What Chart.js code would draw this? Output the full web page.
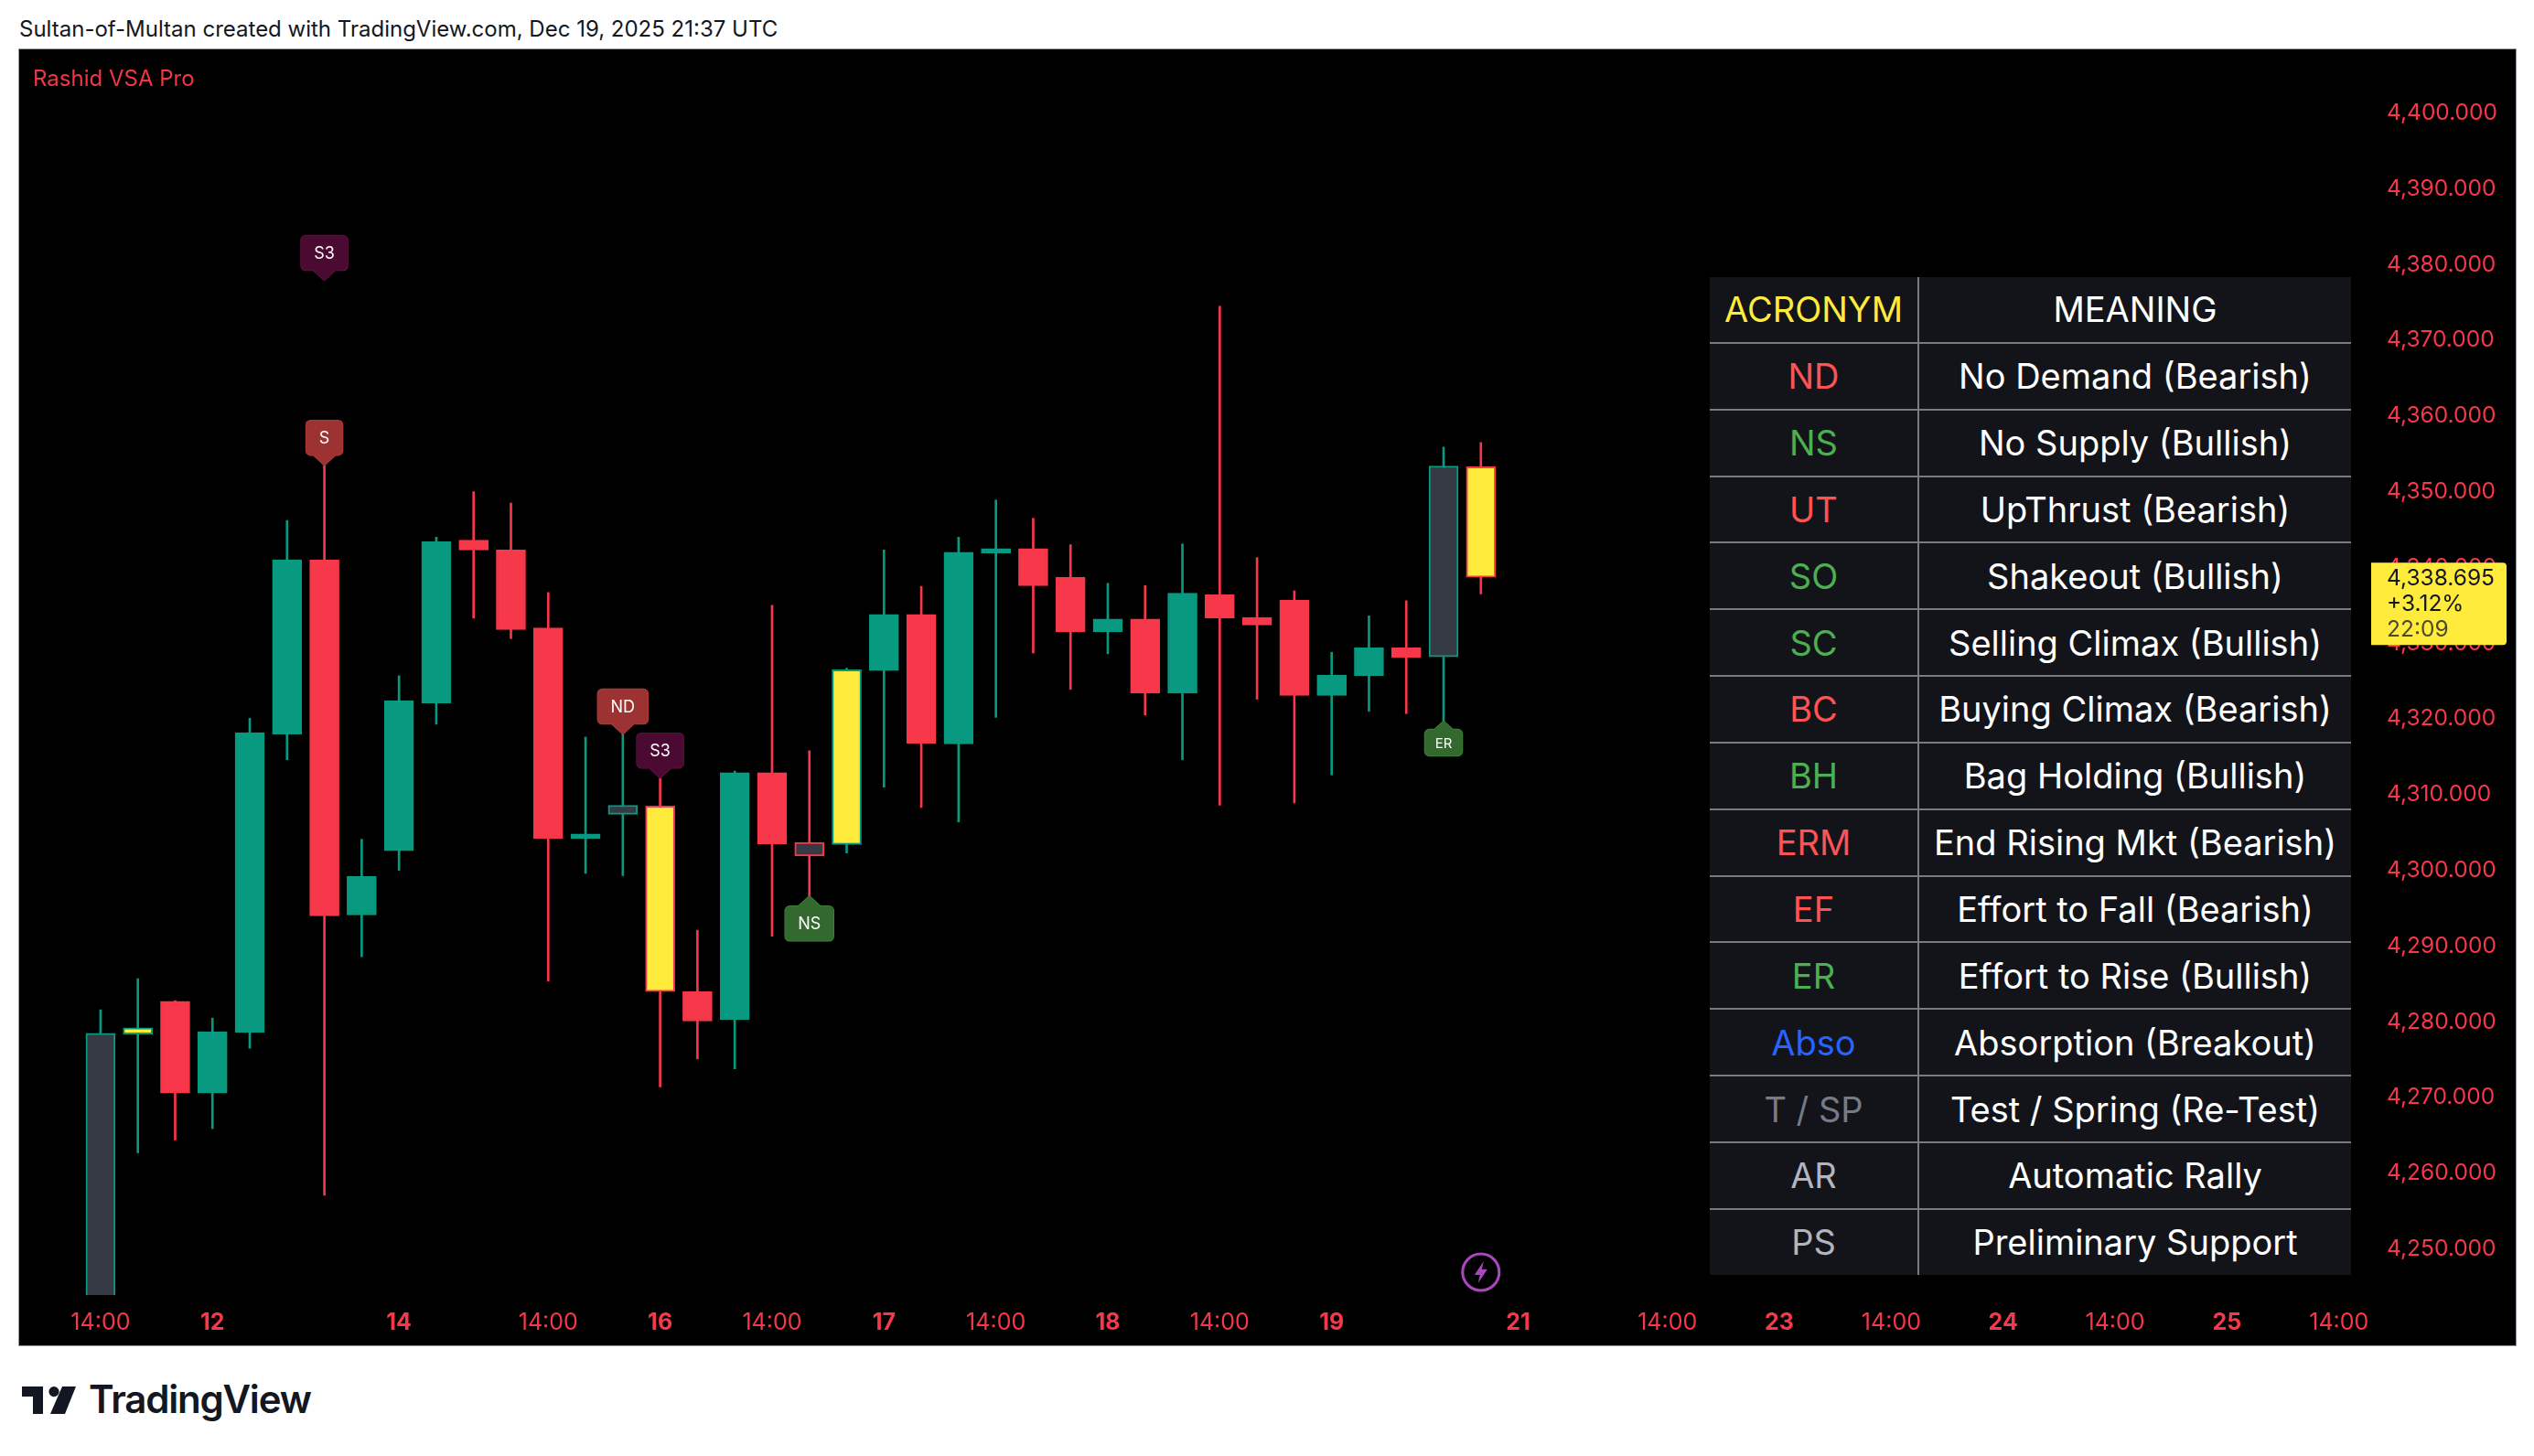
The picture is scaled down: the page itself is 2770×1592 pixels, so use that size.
<!DOCTYPE html>
<html>
<head>
<meta charset="utf-8">
<title>Rashid VSA Pro</title>
<script src="https://cdn.jsdelivr.net/npm/chart.js@4/dist/chart.umd.min.js"></script>
<style>
    html, body { margin: 0; padding: 0; background: #fff; width: 2770px; height: 1592px; overflow: hidden; font-family: Inter, sans-serif; }
    #cabecera { position: absolute; left: 21px; top: 17px; font-size: 24px; line-height: 30px; color: #131722; white-space: nowrap; }
    #panel { position: absolute; left: 20px; top: 53px; width: 2729px; height: 1417px; background: #000; border: 1px solid #9598a1; }
    #grafico { display: block; }
    #indicador { position: absolute; left: 36px; top: 71px; font-size: 24px; line-height: 30px; color: #f23645; white-space: nowrap; }
    #tabla { position: absolute; left: 1869px; top: 303px; width: 701px; border-collapse: collapse; table-layout: fixed; background: #12141a; font-size: 38px; color: #fff; }
    #tabla td { height: 70.85px; padding: 0; text-align: center; white-space: nowrap; border-top: 2px solid #787b86; border-left: 2px solid #787b86; }
    #tabla tr:first-child td { border-top: none; }
    #tabla td:first-child { border-left: none; }
    #logo { position: absolute; left: 24px; top: 1516px; }
    #marca { position: absolute; left: 97px; top: 1504px; font-size: 42px; line-height: 52px; font-weight: 600; letter-spacing: -1.2px; color: #131722; }
</style>
</head>
<body>
<div id="cabecera">Sultan-of-Multan created with TradingView.com, Dec 19, 2025 21:37 UTC</div>
<div id="panel"><canvas id="grafico" width="2729" height="1417"></canvas></div>
<div id="indicador">Rashid VSA Pro</div>
<table id="tabla"><colgroup><col style="width:228px"><col></colgroup><tbody id="filas"></tbody></table>
<svg id="logo" width="60" height="30" viewBox="0 0 60 30"><path d="M0 0H23V30H12V11H0Z M59 0H44L31 30H47Z" fill="#131722"/><circle cx="35" cy="5.6" r="5.6" fill="#131722"/></svg>
<div id="marca">TradingView</div>
<script>
const opens = [4238, 4278.4, 4282.7, 4270.6, 4278.6, 4318, 4341, 4294.1, 4302.6, 4322.1, 4343.6, 4342.3, 4332, 4304.2, 4307.4, 4308.5, 4284, 4280.3, 4312.9, 4303.7, 4303.4, 4326.4, 4333.8, 4316.7, 4341.9, 4342.5, 4338.7, 4331.5, 4333.2, 4323.4, 4336.4, 4333.4, 4335.7, 4323.1, 4325.7, 4329.4, 4328.2, 4353.3];
const highs = [4281.6, 4285.7, 4282.8, 4280.5, 4320.1, 4346.2, 4353.5, 4304.1, 4325.7, 4344, 4350, 4348.5, 4336.7, 4317.6, 4318, 4312.2, 4292.1, 4313.1, 4335, 4315.8, 4326.7, 4342.3, 4337.5, 4344, 4348.9, 4346.5, 4343, 4337.9, 4337.6, 4343.1, 4374.5, 4341.3, 4336.9, 4328.8, 4333.6, 4335.6, 4355.9, 4356.5];
const lows = [4236, 4262.7, 4264.4, 4265.9, 4276.5, 4314.6, 4257.1, 4288.6, 4300, 4319.3, 4333.3, 4330.6, 4285.4, 4299.6, 4299.3, 4271.4, 4275.1, 4273.8, 4291.3, 4296.6, 4302.3, 4311, 4308.3, 4306.4, 4320.2, 4328.7, 4323.9, 4328.6, 4320.5, 4314.6, 4308.6, 4322.6, 4308.9, 4312.6, 4321, 4320.7, 4319.7, 4336.5];
const closes = [4278.5, 4279.2, 4270.6, 4278.7, 4318.2, 4341, 4294, 4299.2, 4322.4, 4343.4, 4342.3, 4331.8, 4304.2, 4304.8, 4308.6, 4284, 4280.1, 4312.9, 4303.5, 4301.9, 4326.5, 4333.8, 4316.8, 4342, 4342.5, 4337.6, 4331.5, 4333.2, 4323.4, 4336.6, 4333.3, 4332.4, 4323.1, 4325.8, 4329.4, 4328.1, 4353.4, 4338.695];
const highVolumeBars = [1, 15, 20, 37];
const lowVolumeBars = [0, 14, 19, 36];

const timeTickBars = [0, 3, 8, 12, 15, 18, 21, 24, 27, 30, 33, 38, 42, 45, 48, 51, 54, 57, 60];
const timeTicks = ['14:00', '12', '14', '14:00', '16', '14:00', '17', '14:00', '18', '14:00', '19', '21', '14:00', '23', '14:00', '24', '14:00', '25', '14:00'];
const priceTicks = [4250, 4260, 4270, 4280, 4290, 4300, 4310, 4320, 4330, 4340, 4350, 4360, 4370, 4380, 4390, 4400];

const markerBars = [6, 6, 14, 15, 19, 36];
const markerTexts = ['S3', 'S', 'ND', 'S3', 'NS', 'ER'];
const markerPrices = [4377.9, 4353.5, 4318, 4312.2, 4296.6, 4319.7];

const acronyms = ['ACRONYM', 'ND', 'NS', 'UT', 'SO', 'SC', 'BC', 'BH', 'ERM', 'EF', 'ER', 'Abso', 'T / SP', 'AR', 'PS'];
const meanings = ['MEANING', 'No Demand (Bearish)', 'No Supply (Bullish)', 'UpThrust (Bearish)', 'Shakeout (Bullish)', 'Selling Climax (Bullish)', 'Buying Climax (Bearish)', 'Bag Holding (Bullish)', 'End Rising Mkt (Bearish)', 'Effort to Fall (Bearish)', 'Effort to Rise (Bullish)', 'Absorption (Breakout)', 'Test / Spring (Re-Test)', 'Automatic Rally', 'Preliminary Support'];
const acronymColors = ['#ffeb3b', '#ff5252', '#4caf50', '#ff5252', '#4caf50', '#4caf50', '#ff5252', '#4caf50', '#ff5252', '#ff5252', '#4caf50', '#2962ff', '#787b86', '#b2b5be', '#b2b5be'];

const lastPrice = 4338.695;
const lastLines = ['4,338.695', '+3.12%', '22:09'];

const UP = '#089981';
const DOWN = '#f7374a';
const FONT = 'Inter, sans-serif';

function pintarTabla() {
    const filas = document.getElementById('filas');
    acronyms.forEach((sigla, i) => {
        const tr = document.createElement('tr');
        const a = document.createElement('td');
        a.textContent = sigla;
        a.style.color = acronymColors[i];
        const m = document.createElement('td');
        m.textContent = meanings[i];
        tr.appendChild(a);
        tr.appendChild(m);
        filas.appendChild(tr);
    });
}

function colorVela(i) {
    return closes[i] >= opens[i] ? UP : DOWN;
}

function rellenoVela(i) {
    if (highVolumeBars.includes(i)) return '#ffeb3b';
    if (lowVolumeBars.includes(i)) return '#363a45';
    return colorVela(i);
}

// los dias van en negrita, las horas no
function fuenteTiempo(ctx) {
    const etiqueta = ctx.tick ? timeTicks[timeTickBars.indexOf(ctx.tick.value)] : '14:00';
    return { family: FONT, size: 25, weight: etiqueta && etiqueta.length < 3 ? 'bold' : 'normal' };
}

// sin esto las etiquetas de los extremos encogen el area del grafico
function sinRelleno(scale) {
    scale.paddingTop = 0;
    scale.paddingBottom = 0;
    scale.paddingLeft = 0;
    scale.paddingRight = 0;
}

// globos de texto sobre las velas
function dibujarMarcador(ctx, x, tipY, texto) {
    const alcista = texto === 'NS' || texto === 'ER';
    const chico = texto === 'ER';
    const h = chico ? 29 : 38;
    const punta = chico ? 9 : 11;
    const base = chico ? 10 : 12;
    ctx.font = (chico ? 15 : 18) + 'px ' + FONT;
    const w = Math.round(ctx.measureText(texto).width) + (chico ? 22 : 28);
    const top = alcista ? tipY + punta : tipY - punta - h;
    let relleno = '#9c3232', borde = '#b83c3c';
    if (alcista) { relleno = '#33692e'; borde = '#3f8a3a'; }
    if (texto === 'S3') { relleno = '#4a0a32'; borde = '#6a1147'; }

    ctx.beginPath();
    ctx.roundRect(x - w / 2, top, w, h, 5);
    ctx.moveTo(x - base, alcista ? top : top + h);
    ctx.lineTo(x, tipY);
    ctx.lineTo(x + base, alcista ? top : top + h);
    ctx.closePath();
    ctx.fillStyle = relleno;
    ctx.strokeStyle = borde;
    ctx.lineWidth = 1.5;
    ctx.stroke();
    ctx.fill();

    ctx.fillStyle = '#fff';
    ctx.textAlign = 'center';
    ctx.textBaseline = 'middle';
    ctx.fillText(texto, x, top + h / 2 + 1);
}

function dibujarRayo(ctx, x, y) {
    ctx.beginPath();
    ctx.arc(x, y, 20, 0, Math.PI * 2);
    ctx.strokeStyle = '#ab47bc';
    ctx.lineWidth = 3;
    ctx.stroke();
    ctx.beginPath();
    ctx.moveTo(x + 3, y - 12);
    ctx.lineTo(x - 7, y + 3);
    ctx.lineTo(x - 1, y + 3);
    ctx.lineTo(x - 3, y + 12);
    ctx.lineTo(x + 7, y - 3);
    ctx.lineTo(x + 1, y - 3);
    ctx.closePath();
    ctx.fillStyle = '#ab47bc';
    ctx.fill();
}

function dibujarEtiquetaPrecio(chart) {
    const ctx = chart.ctx;
    const y = chart.scales.y.getPixelForValue(lastPrice);
    ctx.fillStyle = '#ffeb3b';
    ctx.beginPath();
    ctx.roundRect(2571, y - 16, 148, 90, [0, 4, 4, 0]);
    ctx.fill();
    ctx.font = '24.5px ' + FONT;
    ctx.textAlign = 'left';
    ctx.textBaseline = 'middle';
    lastLines.forEach((linea, i) => {
        ctx.fillStyle = i === 2 ? '#4a4a30' : '#131722';
        ctx.fillText(linea, 2588, y + 1 + i * 28);
    });
}

const extras = {
    id: 'extras',
    afterDraw(chart) {
        const ctx = chart.ctx;
        ctx.save();
        markerBars.forEach((bar, i) => {
            dibujarMarcador(ctx, chart.scales.x.getPixelForValue(bar), chart.scales.y.getPixelForValue(markerPrices[i]), markerTexts[i]);
        });
        dibujarRayo(ctx, chart.scales.x.getPixelForValue(37), 1337);
        dibujarEtiquetaPrecio(chart);
        ctx.restore();
    }
};

function crearGrafico() {
    const indices = opens.map((_, i) => i);
    new Chart(document.getElementById('grafico').getContext('2d'), {
        type: 'bar',
        data: {
            datasets: [
                {
                    label: 'Wicks',
                    data: indices.map(i => ({ x: i, y: [lows[i], highs[i]] })),
                    backgroundColor: indices.map(colorVela),
                    borderWidth: 0,
                    barThickness: 2,
                    grouped: false,
                    order: 2
                },
                {
                    label: 'Bodies',
                    data: indices.map(i => ({ x: i, y: [opens[i], closes[i]] })),
                    backgroundColor: indices.map(rellenoVela),
                    borderColor: indices.map(colorVela),
                    borderWidth: 2,
                    borderSkipped: false,
                    barThickness: 32,
                    grouped: false,
                    order: 1
                }
            ]
        },
        options: {
            responsive: false,
            animation: false,
            devicePixelRatio: 1,
            layout: { padding: 0 },
            plugins: { legend: { display: false }, tooltip: { enabled: false } },
            scales: {
                x: {
                    type: 'linear',
                    offset: false,
                    min: -2.18,
                    max: 61.06,
                    grid: { display: false },
                    border: { display: false },
                    afterBuildTicks: scale => { scale.ticks = timeTickBars.map(value => ({ value })); },
                    afterFit: scale => { scale.height = 55; sinRelleno(scale); },
                    ticks: {
                        autoSkip: false,
                        maxRotation: 0,
                        padding: 7,
                        color: DOWN,
                        font: fuenteTiempo,
                        callback: value => timeTicks[timeTickBars.indexOf(value)]
                    }
                },
                y: {
                    position: 'right',
                    min: 4243.93,
                    max: 4408.4,
                    grid: { display: false },
                    border: { display: false },
                    afterBuildTicks: scale => { scale.ticks = priceTicks.map(value => ({ value })); },
                    afterFit: scale => { scale.width = 150; sinRelleno(scale); },
                    ticks: {
                        padding: 1,
                        color: DOWN,
                        font: { family: FONT, size: 24.5 },
                        callback: value => value.toLocaleString('en-US', { minimumFractionDigits: 3 })
                    }
                }
            }
        },
        plugins: [extras]
    });
}

pintarTabla();
crearGrafico();
</script>
</body>
</html>
